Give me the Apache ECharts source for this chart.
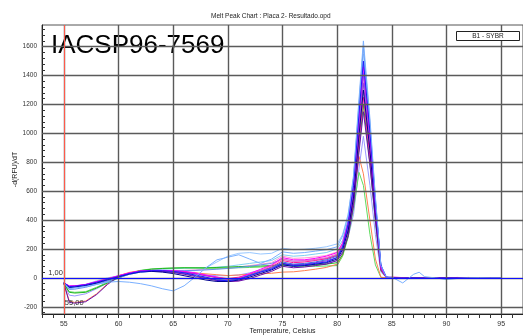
<!DOCTYPE html>
<html><head><meta charset="utf-8">
<script src="https://cdn.jsdelivr.net/npm/echarts@6/dist/echarts.min.js"></script>
<style>html,body{margin:0;padding:0;background:#fff}#chart{width:523px;height:335px}</style>
</head><body><div id="chart"></div>
<script>
// Temperature steps (Celsius) shared by every melt curve
const temps = [55, 55.5, 56, 57, 58, 59, 60, 61, 62, 63, 64, 65, 66, 67, 68, 69, 70, 71, 72, 73, 74, 75, 76, 77, 78, 79, 80,
  80.5, 81, 81.5, 82, 82.4, 83, 83.5, 84, 84.5,
  85, 86, 87, 87.5, 88, 89, 90, 91, 92, 93, 94, 95];

// -d(RFU)/dT for each well
const curveSkyDip = [-35,-75,-70,-60,-45,-30,-25,-30,-40,-55,-75,-90,-55,5,70,125,143,160,130,100,130,180,170,175,185,195,215,
  290,430,710,1240,1640,1100,560,85,5,
  5,-35,25,39,8,0,-12,-4,0,1,0,0];
const curveSkyHigh = [-35,-70,-65,-45,-20,0,15,30,40,45,45,45,45,50,70,110,150,170,175,165,170,205,195,198,205,215,235,
  300,440,690,1180,1550,1040,530,80,4,
  3,0,-2,0,2,0,-5,0,0,0,0,0];
const curveBlue = [-35,-60,-58,-48,-30,-10,10,30,45,50,50,45,35,20,5,-15,-20,-10,15,40,60,100,85,90,100,110,140,
  210,370,640,1140,1500,1010,520,90,5,
  2,0,1,0,-1,0,0,1,0,0,0,0];
const curveNavy = [-40,-65,-62,-52,-35,-12,8,28,42,45,40,30,15,0,-15,-25,-25,-15,5,30,55,90,80,85,95,105,130,
  195,325,560,990,1300,880,450,75,5,
  0,1,0,0,0,-1,0,0,0,0,0,0];
const curveMagenta = [-35,-55,-55,-45,-25,-5,15,35,48,52,52,50,45,35,20,5,-10,0,30,60,90,140,125,125,135,150,175,
  240,380,630,1110,1460,980,500,70,3,
  4,2,0,0,0,0,0,3,0,0,0,0];
const curvePink = [-35,-62,-60,-50,-30,-10,12,32,45,48,45,40,30,15,0,-15,-25,-20,10,50,85,130,115,118,128,140,165,
  230,365,600,1060,1400,940,480,65,3,
  6,2,0,0,0,0,0,0,0,0,0,0];
const curvePurple = [-35,-58,-56,-46,-28,-8,12,32,46,50,50,48,42,30,15,0,-10,-5,15,40,65,100,92,95,105,118,140,
  205,340,580,1030,1350,910,460,70,4,
  0,0,0,0,0,0,0,0,0,0,0,0];
const curveGreen = [-40,-100,-105,-100,-70,-35,0,30,50,60,65,68,70,70,70,72,75,78,80,82,85,95,88,88,90,95,105,
  160,290,520,900,1200,790,390,50,2,
  0,0,0,0,0,0,0,0,0,0,0,0];
const curveLightGreen = [-40,-95,-100,-95,-65,-30,5,32,52,62,66,68,70,68,66,66,68,70,72,75,80,90,82,80,80,82,85,
  150,280,480,730,640,300,90,3,0,
  0,0,0,0,0,0,0,0,0,0,0,0];
const curveSalmon = [-40,-160,-170,-160,-110,-40,15,38,50,50,48,45,40,35,28,22,16,20,25,28,32,40,42,50,60,72,95,
  160,300,540,840,720,397,130,5,0,
  0,0,0,0,0,0,-1,0,3,0,0,0];
const curveLavender = [-38,-120,-125,-110,-75,-35,0,25,40,45,45,42,38,30,20,15,15,20,35,55,70,90,80,85,92,100,120,
  180,280,440,760,980,640,300,40,2,
  0,0,0,0,0,0,0,0,0,0,0,0];
const curveRoyal = [-35,-68,-65,-55,-38,-18,5,25,40,45,45,40,30,15,0,-10,-15,-5,20,45,70,110,95,100,110,125,150,
  220,360,610,1080,1420,960,490,80,4,
  0,0,0,0,0,0,0,0,0,0,0,0];
const curveCornflower = [-35,-80,-78,-65,-45,-25,0,25,40,48,50,50,50,52,55,60,65,72,80,90,100,130,115,118,125,135,160,
  240,400,690,1210,1600,1070,545,80,5,
  0,0,0,0,0,0,0,0,0,0,0,0];
const curveHotPink = [-35,-58,-57,-48,-28,-8,14,34,47,50,48,44,38,28,15,5,-5,5,25,50,75,120,105,110,120,132,155,
  215,330,540,950,1250,840,420,55,2,
  0,0,0,0,0,0,0,0,0,0,0,0];
const curveLightPink = [-35,-60,-58,-50,-32,-12,10,30,44,48,50,50,52,55,58,62,68,75,85,95,105,150,135,138,145,155,180,
  245,370,585,1020,1350,900,450,60,3,
  0,0,0,0,0,0,0,0,0,0,0,0];
const curveDeepViolet = [-38,-170,-175,-165,-115,-45,10,32,45,48,45,38,25,10,-5,-18,-25,-22,-5,20,45,80,70,75,85,95,120,
  175,290,500,870,1150,780,400,60,3,
  0,0,0,0,0,0,0,0,0,0,0,0];
const curveAqua = [-35,-65,-63,-52,-35,-15,8,30,46,55,60,63,66,68,70,74,80,90,100,110,120,160,150,155,165,175,200,
  260,400,650,1130,1480,1000,510,80,4,
  0,0,0,0,0,0,0,0,0,0,0,0];

const xTickLabels = [55, 60, 65, 70, 75, 80, 85, 90, 95];
const yTickLabels = [-200, 0, 200, 400, 600, 800, 1000, 1200, 1400, 1600];

const curves = [
  [curveAqua, '#7fd0f0'], [curveSkyHigh, '#99c8ff'], [curveLightPink, '#ff9ad5'],
  [curveLavender, '#9a9aff'], [curveLightGreen, '#5fdc5f'], [curveSalmon, '#ff8050'],
  [curveGreen, '#22b822'], [curveCornflower, '#6495ed'], [curveHotPink, '#ff1493'],
  [curvePurple, '#8a2be2'], [curvePink, '#ff66c4'], [curveRoyal, '#4169e1'],
  [curveDeepViolet, '#6a0dad'], [curveNavy, '#000090'], [curveMagenta, '#ff00ff'],
  [curveBlue, '#1a1aff'], [curveSkyDip, '#7ab0ff']
];

const FONT = 'Liberation Sans, Arial, sans-serif';
const xMinor = [];
for (let t = 53; t <= 97; t++) xMinor.push(t);
const yMinor = [];
for (let v = -240; v <= 1720; v += 40) yMinor.push(v);

const chart = echarts.init(document.getElementById('chart'), null, { renderer: 'canvas' });

const series = [];
// grid lines
series.push({
  type: 'line', data: [], z: 1, silent: true,
  markLine: {
    silent: true, symbol: 'none', animation: false,
    label: { show: false },
    lineStyle: { color: '#5a5a5a', width: 1.4, type: 'solid' },
    data: xTickLabels.map(v => ({ xAxis: v })).concat(yTickLabels.map(v => ({ yAxis: v })))
  }
});
curves.forEach(([vals, color]) => {
  series.push({
    type: 'line', z: 2, symbol: 'none', animation: false,
    lineStyle: { color, width: 1 },
    data: temps.map((t, i) => [t, vals[i]])
  });
});
// baseline and start temperature markers
series.push({
  type: 'line', data: [], z: 3, silent: true,
  markLine: {
    silent: true, symbol: 'none', animation: false,
    label: { show: false },
    data: [
      { yAxis: 0, lineStyle: { color: '#1010ff', width: 1, type: 'solid' } },
      { xAxis: 55, lineStyle: { color: '#ff5a4a', width: 1, type: 'solid' } }
    ]
  }
});

chart.setOption({
  animation: false,
  backgroundColor: '#fff',
  grid: { left: 42, right: 0, top: 25, bottom: 21, outerBoundsMode: 'none', containLabel: false,
    show: true, borderColor: '#555', borderWidth: 1 },
  xAxis: {
    type: 'value', min: 53, max: 97,
    name: 'Temperature, Celsius', nameLocation: 'middle', nameGap: 14, nameMoveOverlap: false,
    nameTextStyle: { fontFamily: FONT, fontSize: 7, color: '#222' },
    axisLine: { show: true, onZero: false, lineStyle: { color: '#222', width: 1 } },
    axisTick: { show: true, inside: false, length: 4, customValues: xMinor, lineStyle: { color: '#333' } },
    axisLabel: { customValues: xTickLabels, formatter: v => String(v), fontFamily: FONT, fontSize: 7, color: '#333', margin: 7 },
    splitLine: { show: false }
  },
  yAxis: {
    type: 'value', min: -250, max: 1750,
    name: '-d(RFU)/dT', nameLocation: 'middle', nameGap: 23, nameRotate: 90, nameMoveOverlap: false,
    nameTextStyle: { fontFamily: FONT, fontSize: 7, color: '#222' },
    axisLine: { show: true, onZero: false, lineStyle: { color: '#222', width: 1 } },
    axisTick: { show: true, inside: true, length: 3, customValues: yMinor, lineStyle: { color: '#333' } },
    axisLabel: { customValues: yTickLabels, formatter: v => String(v), fontFamily: FONT, fontSize: 6.5, color: '#333', margin: 5 },
    splitLine: { show: false }
  },
  series
});

const origin = chart.convertToPixel({ xAxisIndex: 0, yAxisIndex: 0 }, [55, 0]);
const lowMark = chart.convertToPixel({ xAxisIndex: 0, yAxisIndex: 0 }, [55, -160]);

chart.setOption({
  graphic: [
    { type: 'text', left: 211, top: 13, style: { text: 'Melt Peak Chart : Placa 2- Resultado.opd', font: '6.5px ' + FONT, fill: '#222' } },
    { type: 'text', x: 51, y: 33, style: { text: 'IACSP96-7569', font: '26px ' + FONT, fill: '#000', verticalAlign: 'top' } },
    { type: 'rect', shape: { x: 456.5, y: 31.5, width: 63, height: 9 }, style: { fill: '#fff', stroke: '#222', lineWidth: 1 }, z: 100 },
    { type: 'text', x: 488, y: 36, z: 101, style: { text: 'B1 - SYBR', font: '6.5px ' + FONT, fill: '#222', align: 'center', verticalAlign: 'middle' } },
    { type: 'text', x: origin[0] - 1, y: origin[1] - 1, z: 101, style: { text: '1,00', font: '7.5px ' + FONT, fill: '#333', align: 'right', verticalAlign: 'bottom' } },
    { type: 'text', x: origin[0] + 1, y: lowMark[1] + 2, z: 101, style: { text: '55,00', font: '7.5px ' + FONT, fill: '#333', align: 'left', verticalAlign: 'middle' } }
  ]
});
</script>
</body></html>
